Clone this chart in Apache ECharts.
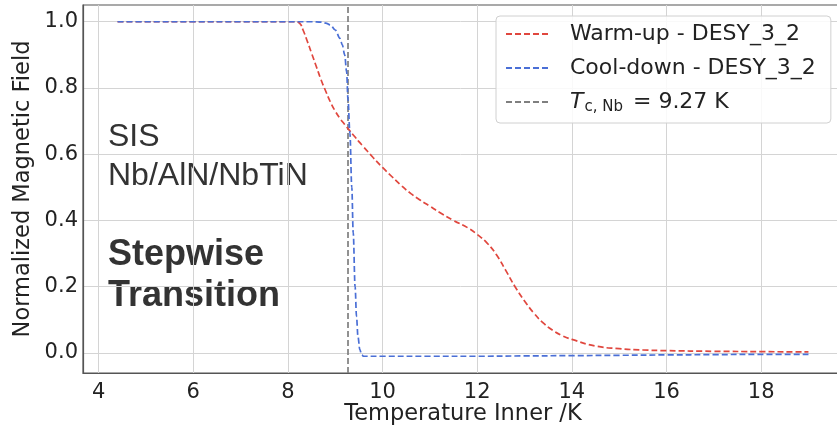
<!DOCTYPE html>
<html>
<head>
<meta charset="utf-8">
<script src="https://cdn.jsdelivr.net/npm/echarts@6/dist/echarts.min.js"></script>
<style>
  html, body { margin: 0; padding: 0; background: #ffffff; }
  #chart { width: 837px; height: 427px; }
</style>
</head>
<body>
<div id="chart"></div>
<script>
// Warm-up sweep (DESY_3_2): temperature in K, normalized field
const warmTemp = [4.4, 5, 6, 7, 7.5, 8.0, 8.15, 8.25, 8.32, 8.4, 8.5, 8.6, 8.7, 8.8, 8.9, 9.0,
  9.1, 9.2, 9.3, 9.4, 9.5, 9.6, 9.8, 10.0, 10.2, 10.4, 10.6, 10.8, 11.0, 11.2, 11.5, 11.8,
  12.0, 12.2, 12.4, 12.6, 12.8, 13.0, 13.2, 13.4, 13.6, 13.8, 14.0, 14.5, 15.0, 15.5, 16,
  17, 18, 19];
const warmField = [1.0, 1.0, 1.0, 1.0, 1.0, 1.0, 1.0, 0.995, 0.975, 0.945, 0.905, 0.865, 0.825,
  0.79, 0.757, 0.73, 0.708, 0.69, 0.672, 0.655, 0.638, 0.622, 0.59, 0.56, 0.532, 0.505, 0.481,
  0.461, 0.443, 0.425, 0.40, 0.378, 0.358, 0.333, 0.298, 0.25, 0.20, 0.157, 0.12, 0.09, 0.068,
  0.052, 0.041, 0.021, 0.013, 0.009, 0.007, 0.005, 0.004, 0.003];

// Cool-down sweep (DESY_3_2)
const coolTemp = [4.4, 5, 6, 7, 8.0, 8.5, 8.7, 8.8, 8.9, 9.0, 9.1, 9.15, 9.2, 9.24, 9.27, 9.31,
  9.35, 9.38, 9.42, 9.45, 9.48, 9.52, 9.56, 9.6, 10, 11, 12, 13, 14, 15, 16, 17, 18, 19];
const coolField = [1.0, 1.0, 1.0, 1.0, 1.0, 1.0, 0.999, 0.996, 0.99, 0.975, 0.95, 0.93, 0.9,
  0.85, 0.765, 0.664, 0.5, 0.363, 0.2, 0.11, 0.05, 0.01, -0.006, -0.01, -0.01, -0.01, -0.01,
  -0.009, -0.008, -0.007, -0.006, -0.005, -0.004, -0.004];

// Critical temperature of Nb
const tcNb = 9.27;

// Axis ranges and tick labels
const xRange = [3.67, 19.73];
const yRange = [-0.0605, 1.0505];
const xTicks = [4, 6, 8, 10, 12, 14, 16, 18];
const yTicks = [0.0, 0.2, 0.4, 0.6, 0.8, 1.0];

const pairs = (xs, ys) => xs.map((x, i) => [x, ys[i]]);

const axisFont = 'DejaVu Sans';
const spineColor = '#555';
const gridColor = '#d4d4d4';

const chart = echarts.init(document.getElementById('chart'), null, { renderer: 'canvas' });

chart.setOption({
  animation: false,
  backgroundColor: '#ffffff',
  grid: {
    left: 83, top: 5, width: 760, height: 368,
    containLabel: false,
    outerBoundsMode: 'none',
    show: true, borderColor: spineColor, borderWidth: 1.2, backgroundColor: 'transparent'
  },
  xAxis: {
    type: 'value',
    min: xRange[0],
    max: xRange[1],
    name: 'Temperature Inner /K',
    nameLocation: 'middle',
    nameGap: 30,
    nameMoveOverlap: false,
    nameTextStyle: { fontFamily: axisFont, fontSize: 22.5, color: '#222' },
    axisLine: { show: true, onZero: false, lineStyle: { color: spineColor, width: 1.2 } },
    axisTick: { show: false, customValues: xTicks },
    axisLabel: {
      customValues: xTicks,
      fontFamily: axisFont, fontSize: 21, color: '#222', margin: 9,
      formatter: v => String(v)
    },
    splitLine: { show: true, lineStyle: { color: gridColor, width: 1 } }
  },
  yAxis: {
    type: 'value',
    min: yRange[0],
    max: yRange[1],
    name: 'Normalized Magnetic Field',
    nameLocation: 'middle',
    nameGap: 48,
    nameMoveOverlap: false,
    nameTextStyle: { fontFamily: axisFont, fontSize: 22.5, color: '#222' },
    axisLine: { show: true, onZero: false, lineStyle: { color: spineColor, width: 1.2 } },
    axisTick: { show: false, customValues: yTicks },
    axisLabel: {
      customValues: yTicks,
      fontFamily: axisFont, fontSize: 21, color: '#222', margin: 5,
      formatter: v => v.toFixed(1)
    },
    splitLine: { show: true, lineStyle: { color: gridColor, width: 1 } }
  },
  legend: {
    orient: 'vertical',
    left: 496,
    top: 16,
    padding: [5, 15, 8, 9],
    itemGap: 8,
    itemWidth: 44,
    itemHeight: 3,
    itemStyle: { opacity: 0 },
    backgroundColor: 'rgba(255,255,255,0.85)',
    borderColor: '#d0d0d0',
    borderWidth: 1,
    borderRadius: 4,
    data: ['Warm-up - DESY_3_2', 'Cool-down - DESY_3_2', 'tc'],
    formatter: name => name === 'tc'
      ? '{it|T}{sub|c, Nb}{n| = 9.27 K}'
      : name,
    textStyle: {
      fontFamily: axisFont, fontSize: 22, lineHeight: 26, color: '#222', padding: [0, 0, 0, 15],
      rich: {
        it: { fontFamily: axisFont, fontSize: 22, lineHeight: 26, fontStyle: 'italic', color: '#222' },
        sub: { fontFamily: axisFont, fontSize: 15, lineHeight: 15, color: '#222', padding: [11, 3, 0, 1] },
        n: { fontFamily: axisFont, fontSize: 22, lineHeight: 26, color: '#222' }
      }
    }
  },
  graphic: [
    { type: 'text', left: 108, top: 121, style: { text: 'SIS', font: '32px "Liberation Sans"', fill: '#333', verticalAlign: 'middle' } },
    { type: 'text', left: 108, top: 160, style: { text: 'Nb/AlN/NbTiN', font: '32px "Liberation Sans"', fill: '#333', verticalAlign: 'middle' } },
    { type: 'text', left: 108, top: 237, style: { text: 'Stepwise', font: 'bold 36px "Liberation Sans"', fill: '#333', verticalAlign: 'middle' } },
    { type: 'text', left: 108, top: 278, style: { text: 'Transition', font: 'bold 36px "Liberation Sans"', fill: '#333', verticalAlign: 'middle' } }
  ],
  series: [
    {
      name: 'Warm-up - DESY_3_2',
      type: 'line',
      data: pairs(warmTemp, warmField),
      showSymbol: false,
      symbol: 'none',
      smooth: 0.5,
      color: '#e0473e',
      lineStyle: { color: '#e0473e', width: 1.7, type: [6, 3] },
      z: 3
    },
    {
      name: 'Cool-down - DESY_3_2',
      type: 'line',
      data: pairs(coolTemp, coolField),
      showSymbol: false,
      symbol: 'none',
      smooth: 0.35,
      smoothMonotone: 'x',
      color: '#4a6fd6',
      lineStyle: { color: '#4a6fd6', width: 1.7, type: [6, 3] },
      z: 4
    },
    {
      name: 'tc',
      type: 'line',
      data: [[tcNb, yRange[0]], [tcNb, yRange[1]]],
      showSymbol: false,
      symbol: 'none',
      color: '#7f7f7f',
      lineStyle: { color: '#7f7f7f', width: 1.7, type: [6, 3] },
      z: 2
    }
  ]
});
</script>
</body>
</html>
